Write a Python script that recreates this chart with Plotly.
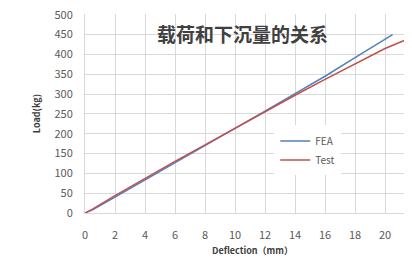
import plotly.graph_objects as go

fea_x = [0, 0.5, 2, 4, 6, 8, 10, 12, 14, 16, 18, 20.5]
fea_y = [0, 8, 40, 83, 126, 170, 213, 257, 301, 345, 392, 450]
test_x = [0, 0.5, 2, 4, 6, 8, 10, 12, 14, 16, 18, 20, 21.6]
test_y = [0, 10, 44, 88, 130, 172, 214, 256, 297, 337, 376, 415, 440]
x_ticks = [0, 2, 4, 6, 8, 10, 12, 14, 16, 18, 20, 22]
y_ticks = [0, 50, 100, 150, 200, 250, 300, 350, 400, 450, 500]

font = "Noto Sans CJK SC"
fig = go.Figure()
fig.add_trace(go.Scatter(x=fea_x, y=fea_y, mode="lines", name="FEA",
                         line=dict(color="#4f81bd", width=1.5)))
fig.add_trace(go.Scatter(x=test_x, y=test_y, mode="lines", name="Test",
                         line=dict(color="#c0504d", width=1.5)))
fig.update_layout(
    width=412, height=268,
    margin=dict(l=77, r=0, t=6, b=63),
    paper_bgcolor="white", plot_bgcolor="white",
    font=dict(family=font, size=11, color="#595959"),
    showlegend=True,
    legend=dict(x=0.565, y=0.44, xanchor="left", yanchor="top",
                bgcolor="white", bordercolor="white", borderwidth=1,
                itemwidth=30,
                font=dict(size=10, color="#595959"), tracegroupgap=2),
    xaxis=dict(range=[0, 22.33], tickvals=x_ticks, showgrid=True, automargin=False,
               gridcolor="#d9d9d9", gridwidth=1, zeroline=False,
               showline=True, linecolor="#d9d9d9", ticklabeloverflow="allow",
               ticks="outside", ticklen=12, tickcolor="rgba(0,0,0,0)",
               title=dict(text="<b>Deflection（mm）</b>", font=dict(size=9, color="#404040"), standoff=6)),
    yaxis=dict(range=[0, 502], tickvals=y_ticks, showgrid=True, automargin=False,
               gridcolor="#d9d9d9", gridwidth=1, zeroline=False,
               showline=True, linecolor="#d9d9d9", ticklabeloverflow="allow",
               ticks="outside", ticklen=9, tickcolor="rgba(0,0,0,0)",
               title=dict(text="<b>Load(kg)</b>", font=dict(size=9, color="#404040"), standoff=12)),
    annotations=[dict(text="<b>载荷和下沉量的关系</b>", x=0.469, y=0.90,
                      xref="paper", yref="paper", showarrow=False,
                      xanchor="center", yanchor="middle",
                      font=dict(family=font, size=19, color="#404040"))],
)
fig.write_html("out.html")
